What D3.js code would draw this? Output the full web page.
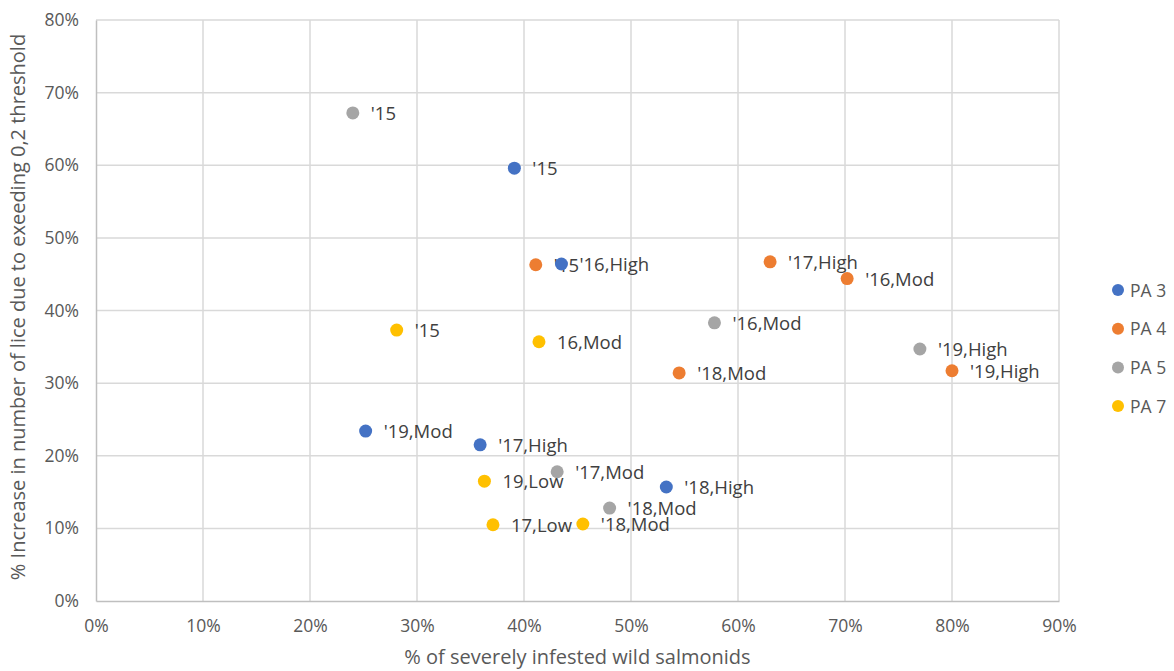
<!DOCTYPE html>
<html><head><meta charset="utf-8">
<script src="https://cdn.jsdelivr.net/npm/d3@7"></script>
<style>
body{margin:0;background:#fff;}
text{font-family:"Open Sans","Noto Sans",sans-serif;}
</style></head>
<body><svg id="c" width="1174" height="671"></svg>
<script>
const seriesNames = ["PA 3","PA 4","PA 5","PA 7"];
const seriesColors = ["#4472C4","#ED7D31","#A5A5A5","#FFC000"];
const pa3X = [0.391,0.435,0.359,0.533,0.252];
const pa3Y = [0.596,0.464,0.215,0.157,0.234];
const pa3Labels = ["'15","'16,High","'17,High","'18,High","'19,Mod"];
const pa4X = [0.411,0.630,0.702,0.545,0.800];
const pa4Y = [0.463,0.467,0.444,0.314,0.317];
const pa4Labels = ["'15","'17,High","'16,Mod","'18,Mod","'19,High"];
const pa5X = [0.240,0.578,0.431,0.480,0.770];
const pa5Y = [0.672,0.383,0.178,0.128,0.347];
const pa5Labels = ["'15","'16,Mod","'17,Mod","'18,Mod","'19,High"];
const pa7X = [0.281,0.414,0.371,0.455,0.363];
const pa7Y = [0.373,0.357,0.105,0.106,0.165];
const pa7Labels = ["'15","16,Mod","17,Low","'18,Mod","19,Low"];
const xTicks = [0,0.1,0.2,0.3,0.4,0.5,0.6,0.7,0.8,0.9];
const yTicks = [0,0.1,0.2,0.3,0.4,0.5,0.6,0.7,0.8];
const xTitle = "% of severely infested wild salmonids";
const yTitle = "% Increase in number of lice due to exeeding 0,2 threshold";

const series = [
  {x:pa3X,y:pa3Y,l:pa3Labels},
  {x:pa4X,y:pa4Y,l:pa4Labels},
  {x:pa5X,y:pa5Y,l:pa5Labels},
  {x:pa7X,y:pa7Y,l:pa7Labels}
];

const svg = d3.select("#c");
const x = d3.scaleLinear().domain([0,0.9]).range([96,1059]);
const y = d3.scaleLinear().domain([0,0.8]).range([601,20]);
const fmt = d3.format(".0%");
const FF = '"Open Sans","Noto Sans",sans-serif';

svg.append("g").selectAll("line").data(xTicks.slice(1)).join("line")
  .attr("x1",d=>x(d)).attr("x2",d=>x(d)).attr("y1",y(0.8)).attr("y2",y(0))
  .attr("stroke","#D9D9D9").attr("stroke-width",1.5);
svg.append("g").selectAll("line").data(yTicks.slice(1)).join("line")
  .attr("x1",x(0)).attr("x2",x(0.9)).attr("y1",d=>y(d)).attr("y2",d=>y(d))
  .attr("stroke","#D9D9D9").attr("stroke-width",1.5);

const xAxis = svg.append("g").attr("transform",`translate(0,${y(0)})`)
  .call(d3.axisBottom(x).tickValues(xTicks).tickFormat(fmt).tickSize(0).tickPadding(19));
const yAxis = svg.append("g").attr("transform",`translate(${x(0)},0)`)
  .call(d3.axisLeft(y).tickValues(yTicks).tickFormat(fmt).tickSize(0).tickPadding(17));
[xAxis,yAxis].forEach(a=>{
  a.select(".domain").attr("stroke","#BFBFBF").attr("stroke-width",1.5);
  a.selectAll("text").attr("fill","#595959").style("font-size","17.5px").style("font-family",FF);
});

series.forEach((s,i)=>{
  const d = s.x.map((v,j)=>({x:v,y:s.y[j],l:s.l[j]}));
  svg.append("g").selectAll("text").data(d).join("text")
    .attr("x",p=>x(p.x)+18).attr("y",p=>y(p.y)+7)
    .attr("fill","#404040").style("font-size","18.5px").text(p=>p.l);
});
series.forEach((s,i)=>{
  const d = s.x.map((v,j)=>({x:v,y:s.y[j]}));
  svg.append("g").selectAll("circle").data(d).join("circle")
    .attr("cx",p=>x(p.x)).attr("cy",p=>y(p.y)).attr("r",6.5)
    .attr("fill",seriesColors[i]);
});

const lg = svg.append("g");
seriesNames.forEach((n,i)=>{
  const yy = 290 + i*38.7;
  lg.append("circle").attr("cx",1118).attr("cy",yy).attr("r",6).attr("fill",seriesColors[i]);
  lg.append("text").attr("x",1130).attr("y",yy+6.5).attr("fill","#595959")
    .style("font-size","17.5px").text(n);
});

svg.append("text").attr("x",(x(0)+x(0.9))/2).attr("y",664).attr("text-anchor","middle")
  .attr("fill","#595959").style("font-size","20px").text(xTitle);
svg.append("text").attr("transform",`translate(25,307) rotate(-90)`)
  .attr("text-anchor","middle").attr("fill","#595959").style("font-size","20px").text(yTitle);
</script></body></html>
